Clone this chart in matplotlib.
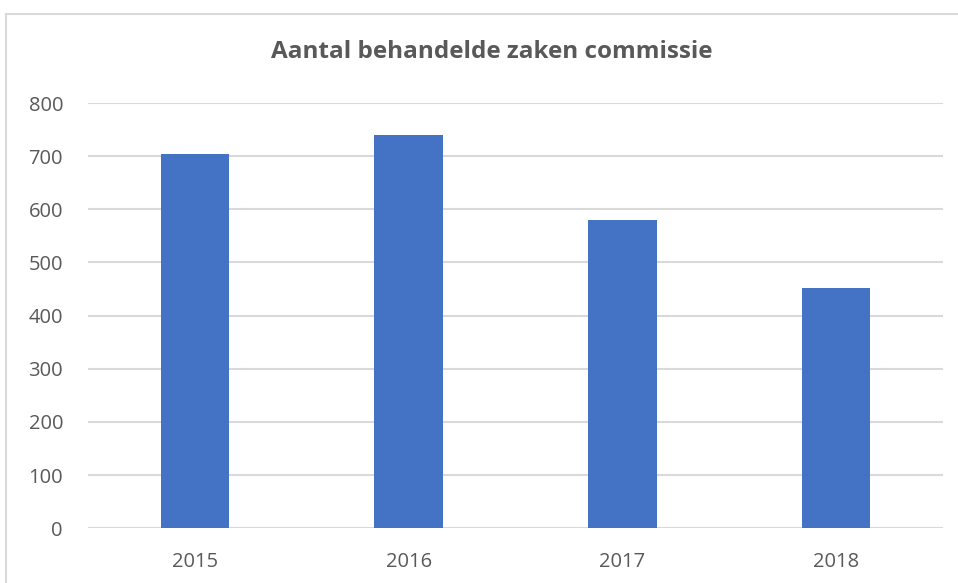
import matplotlib
matplotlib.use("Agg")
import matplotlib.pyplot as plt
from matplotlib.patches import Rectangle

years = ["2015", "2016", "2017", "2018"]
values = [704, 739, 580, 452]
yticks = [0, 100, 200, 300, 400, 500, 600, 700, 800]

W, H = 958, 583
fig = plt.figure(figsize=(W / 100, H / 100), dpi=100)
plt.rcParams['font.family'] = ['Open Sans', 'DejaVu Sans']

# outer chart frame (extends beyond bottom/right)
fig.patches.append(Rectangle((6 / W, -0.1), 1.2, 1.1 - 14 / H, transform=fig.transFigure,
                             fill=False, edgecolor='#d9d9d9', linewidth=1.5))

ax = fig.add_axes([88 / W, (H - 528.3) / H, (943 - 88) / W, (528.3 - 103) / H])
x = list(range(len(years)))
ax.bar(x, values, width=0.32, color='#4472c4', zorder=3)
ax.set_xlim(-0.5, 3.5)
ax.set_ylim(0, 800)
ax.set_yticks(yticks)
ax.set_xticks(x)
ax.set_xticklabels(years)
ax.grid(axis='y', color='#d9d9d9', linewidth=1.5, zorder=0)
for s in ax.spines.values():
    s.set_visible(False)
ax.tick_params(axis='both', length=0, labelsize=14.5, labelcolor='#595959')
ax.tick_params(axis='y', pad=18)
ax.tick_params(axis='x', pad=17)

fig.text(491.5 / W, 1 - 52 / H, "Aantal behandelde zaken commissie", ha='center', va='center',
         fontsize=17.5, fontweight='bold', color='#595959')

fig.savefig("out.png", dpi=100)
